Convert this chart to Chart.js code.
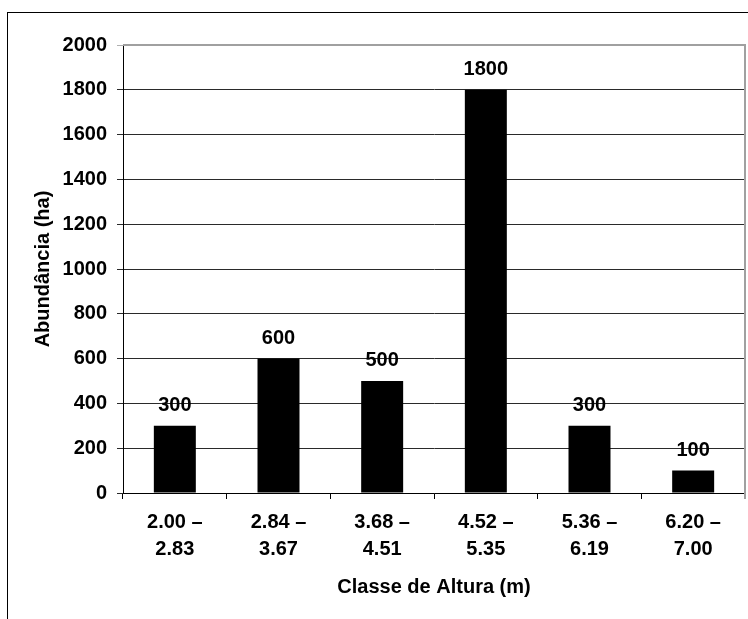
<!DOCTYPE html>
<html>
<head>
<meta charset="utf-8">
<script src="https://cdn.jsdelivr.net/npm/chart.js@4/dist/chart.umd.min.js"></script>
<style>
  html, body { margin: 0; padding: 0; background: #fff; }
  canvas { display: block; }
</style>
</head>
<body>
<canvas id="chart" width="748" height="619"></canvas>
<script>
// Height classes (m): lower and upper bounds of each class
const classStart = ['2.00', '2.84', '3.68', '4.52', '5.36', '6.20'];
const classEnd   = ['2.83', '3.67', '4.51', '5.35', '6.19', '7.00'];
// Abundance per class (ha)
const abundance  = [300, 600, 500, 1800, 300, 100];
// Value axis ticks
const yMin = 0, yMax = 2000, yStep = 200;

const xTitle = 'Classe de Altura (m)';
const yTitle = 'Abundância (ha)';

const categories = classStart.map((s, i) => [s + ' \u2013', classEnd[i]]);

const FONT = '"Liberation Sans", Arial, sans-serif';
const FSIZE = 20;

// Outer frame of the figure
const framePlugin = {
  id: 'frame',
  beforeDraw(chart) {
    const ctx = chart.ctx;
    ctx.save();
    ctx.fillStyle = '#fff';
    ctx.fillRect(0, 0, chart.width, chart.height);
    ctx.strokeStyle = '#000';
    ctx.lineWidth = 1;
    ctx.strokeRect(7.5, 12.5, chart.width + 20, chart.height + 20);
    ctx.restore();
  },
  afterDraw(chart) {
    // plot-area border on the top and right sides
    const a = chart.chartArea;
    const ctx = chart.ctx;
    ctx.save();
    ctx.strokeStyle = '#a0a0a0';
    ctx.lineWidth = 2;
    ctx.beginPath();
    ctx.moveTo(a.left, a.top);
    ctx.lineTo(a.right, a.top);
    ctx.lineTo(a.right, a.bottom + 6);
    ctx.stroke();
    ctx.restore();
  }
};

// Value labels above each bar
const valueLabels = {
  id: 'valueLabels',
  afterDatasetsDraw(chart) {
    const ctx = chart.ctx;
    const meta = chart.getDatasetMeta(0);
    const data = chart.data.datasets[0].data;
    ctx.save();
    ctx.font = 'bold ' + FSIZE + 'px ' + FONT;
    ctx.fillStyle = '#000';
    ctx.textAlign = 'center';
    ctx.textBaseline = 'alphabetic';
    meta.data.forEach((bar, i) => {
      ctx.fillText(String(data[i]), bar.x, bar.y - 15);
    });
    ctx.restore();
  }
};

new Chart(document.getElementById('chart'), {
  type: 'bar',
  data: {
    labels: categories,
    datasets: [{
      data: abundance,
      backgroundColor: '#000',
      borderWidth: 0,
      categoryPercentage: 1,
      barPercentage: 0.405
    }]
  },
  options: {
    responsive: false,
    animation: false,
    events: [],
    layout: { padding: { top: 45, right: 3, left: 0, bottom: 0 } },
    plugins: {
      legend: { display: false },
      tooltip: { enabled: false },
      title: { display: false }
    },
    scales: {
      x: {
        afterFit(scale) { scale.height = 126; },
        grid: {
          display: true,
          drawOnChartArea: false,
          drawTicks: true,
          tickLength: 6,
          offset: true,
          color: '#000',
          lineWidth: 1
        },
        border: { display: true, color: '#000', width: 1 },
        ticks: {
          color: '#000',
          padding: 10,
          maxRotation: 0,
          autoSkip: false,
          font: { family: FONT, size: FSIZE, weight: 'bold', lineHeight: 1.35 }
        },
        title: {
          display: true,
          text: xTitle,
          color: '#000',
          font: { family: FONT, size: FSIZE, weight: 'bold' },
          padding: { top: 0, bottom: 20 }
        }
      },
      y: {
        min: yMin,
        max: yMax,
        afterFit(scale) { scale.width = 123; },
        grid: {
          drawTicks: true,
          tickLength: 6,
          color: (c) => (c.tick && c.tick.value === yMax ? '#b0b0b0' : '#2a2a2a'),
          lineWidth: 1
        },
        border: { display: true, color: '#000', width: 1 },
        ticks: {
          stepSize: yStep,
          color: '#000',
          padding: 10,
          callback: (v) => String(v),
          font: { family: FONT, size: FSIZE, weight: 'bold' }
        },
        title: {
          display: true,
          text: yTitle,
          color: '#000',
          font: { family: FONT, size: FSIZE, weight: 'bold' },
          padding: { top: 31, bottom: 0 }
        }
      }
    }
  },
  plugins: [framePlugin, valueLabels]
});
</script>
</body>
</html>
